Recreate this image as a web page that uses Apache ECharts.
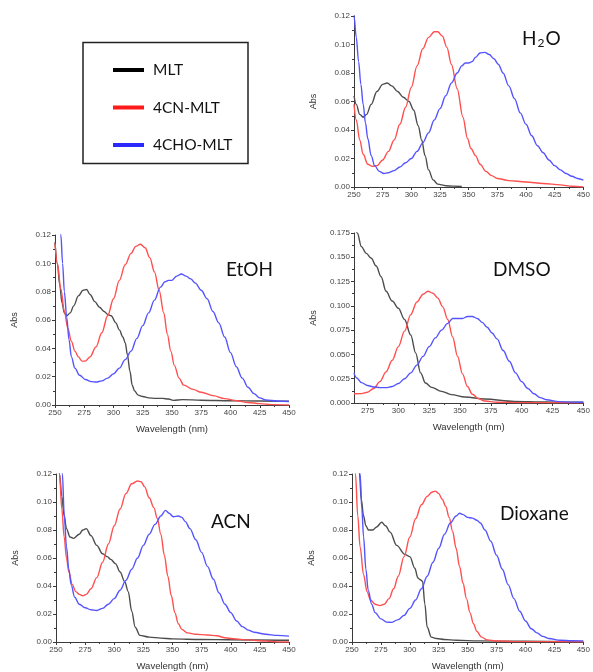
<!DOCTYPE html>
<html>
<head>
<meta charset="utf-8">
<script src="https://cdn.jsdelivr.net/npm/echarts@6/dist/echarts.min.js"></script>
<style>
html, body { margin: 0; padding: 0; background: #fff; }
#chart { width: 593px; height: 672px; }
</style>
</head>
<body>
<div id="chart"></div>
<script>
// UV-Vis absorption spectra of MLT, 4CN-MLT and 4CHO-MLT in five solvents.
// Each series is a list of [wavelength (nm), absorbance] pairs.

const seriesNames = ['MLT', '4CN-MLT', '4CHO-MLT'];
const solventNames = ['H2O', 'EtOH', 'DMSO', 'ACN', 'Dioxane'];
const xTicks = [250, 275, 300, 325, 350, 375, 400, 425, 450];
const dmsoXTicks = [275, 300, 325, 350, 375, 400, 425, 450];

// ---- H2O ----
const h2oMLT = [[250,0.064],[252,0.058],[255,0.051],[258,0.049],[261,0.051],[265,0.058],[270,0.067],[275,0.072],[279,0.073],[283,0.071],[288,0.067],[293,0.063],[298,0.060],[302,0.054],[306,0.043],[309,0.033],[312,0.022],[315,0.012],[319,0.005],[323,0.002],[330,0.0009],[337,0.0006],[344,0.0003]];
const h2oCN = [[250,0.058],[252,0.047],[255,0.033],[258,0.023],[262,0.016],[266,0.0145],[270,0.015],[275,0.019],[280,0.025],[285,0.033],[290,0.044],[295,0.056],[300,0.070],[305,0.085],[310,0.097],[315,0.105],[320,0.109],[323,0.109],[327,0.106],[331,0.098],[335,0.086],[340,0.069],[345,0.049],[349,0.034],[352,0.027],[356,0.022],[360,0.016],[365,0.011],[370,0.008],[375,0.006],[385,0.0045],[400,0.0035],[415,0.0025],[430,0.0015],[440,0.0005],[450,0]];
const h2oCHO = [[249,0.135],[250,0.12],[252,0.105],[254,0.088],[256,0.072],[258,0.058],[260,0.045],[262,0.034],[265,0.022],[268,0.015],[272,0.011],[276,0.0095],[280,0.0100],[285,0.0115],[290,0.014],[295,0.017],[300,0.020],[305,0.025],[310,0.031],[315,0.038],[320,0.047],[325,0.055],[330,0.064],[335,0.073],[340,0.080],[344,0.085],[347,0.087],[350,0.087],[353,0.088],[356,0.091],[360,0.094],[364,0.0945],[368,0.093],[372,0.090],[376,0.086],[380,0.080],[385,0.071],[390,0.062],[395,0.052],[400,0.044],[405,0.036],[410,0.029],[415,0.024],[420,0.019],[425,0.015],[430,0.012],[435,0.0095],[440,0.0075],[445,0.006],[450,0.0048]];

// ---- EtOH ----
const etohMLT = [[250,0.115],[252,0.100],[254,0.085],[256,0.072],[258,0.065],[260,0.063],[263,0.065],[266,0.070],[270,0.077],[274,0.081],[277,0.0815],[280,0.078],[284,0.073],[288,0.069],[292,0.066],[295,0.064],[298,0.063],[302,0.058],[305,0.053],[308,0.048],[310,0.044],[312,0.035],[314,0.024],[316,0.014],[318,0.010],[321,0.007],[325,0.006],[330,0.005],[336,0.0047],[342,0.0047],[347,0.0042],[351,0.0033],[359,0.0038],[375,0.0034],[400,0.003],[425,0.0028],[450,0.0026]];
const etohCN = [[250,0.114],[252,0.100],[255,0.082],[258,0.066],[261,0.054],[264,0.045],[267,0.038],[270,0.034],[273,0.031],[276,0.031],[280,0.034],[285,0.041],[290,0.051],[295,0.063],[300,0.075],[305,0.088],[310,0.099],[315,0.107],[319,0.112],[323,0.1135],[327,0.111],[331,0.104],[335,0.094],[339,0.081],[343,0.065],[346,0.050],[349,0.038],[352,0.028],[356,0.019],[360,0.014],[368,0.011],[375,0.009],[385,0.0066],[395,0.0045],[405,0.003],[415,0.0018],[425,0.001],[435,0.0003],[450,0]];
const etohCHO = [[254,0.128],[255,0.12],[256.5,0.10],[258,0.08],[260,0.062],[262,0.046],[264,0.034],[267,0.026],[271,0.021],[276,0.018],[281,0.0165],[285,0.0162],[290,0.017],[295,0.019],[300,0.022],[305,0.026],[310,0.032],[315,0.038],[320,0.047],[325,0.056],[330,0.065],[335,0.074],[340,0.083],[344,0.087],[347,0.088],[350,0.088],[354,0.091],[358,0.0925],[362,0.091],[366,0.089],[370,0.086],[375,0.081],[380,0.075],[385,0.066],[390,0.058],[395,0.048],[400,0.037],[405,0.027],[410,0.019],[415,0.0125],[420,0.008],[425,0.005],[430,0.0035],[440,0.0028],[450,0.0025]];

// ---- DMSO ----
const dmsoMLT = [[264,0.185],[266.7,0.175],[270,0.161],[274,0.154],[278,0.149],[282,0.141],[286,0.130],[290,0.115],[295,0.105],[300,0.0975],[305,0.086],[310,0.070],[314,0.0515],[318,0.031],[322,0.0206],[327,0.0161],[335,0.012],[343,0.0086],[354,0.0062],[370,0.0041],[394,0.0017],[420,0.001],[450,0.0007]];
const dmsoCN = [[264,0.0095],[270,0.0097],[275,0.011],[280,0.015],[285,0.022],[290,0.032],[295,0.044],[300,0.058],[305,0.074],[310,0.091],[315,0.104],[320,0.112],[324,0.115],[328,0.113],[332,0.108],[336,0.099],[340,0.086],[344,0.068],[348,0.048],[352,0.030],[356,0.017],[360,0.009],[365,0.0045],[370,0.002],[380,0.0008],[400,0.0004],[450,0.0002]];
const dmsoCHO = [[264,0.031],[266,0.026],[270,0.021],[275,0.018],[280,0.0165],[285,0.0158],[290,0.0158],[295,0.017],[300,0.020],[305,0.025],[310,0.031],[315,0.039],[320,0.048],[325,0.058],[330,0.067],[335,0.075],[340,0.082],[344,0.087],[348,0.087],[352,0.087],[356,0.089],[360,0.089],[364,0.087],[368,0.083],[372,0.078],[376,0.072],[380,0.066],[385,0.054],[390,0.043],[395,0.031],[400,0.022],[405,0.015],[410,0.0095],[415,0.0055],[420,0.0034],[430,0.0014],[440,0.0009],[450,0.0007]];

// ---- ACN ----
const acnMLT = [[252,0.13],[253,0.12],[255,0.104],[257,0.090],[259,0.081],[262,0.075],[265,0.074],[270,0.077],[273,0.080],[276,0.081],[280,0.076],[285,0.069],[290,0.063],[294,0.061],[297,0.059],[301,0.056],[305,0.050],[309,0.043],[312,0.036],[315,0.022],[318,0.0105],[322,0.0047],[330,0.0035],[340,0.0028],[350,0.0022],[375,0.0018],[400,0.0016],[450,0.0012]];
const acnCN = [[252,0.13],[253,0.12],[255,0.095],[257,0.075],[259,0.060],[261,0.050],[264,0.041],[267,0.036],[270,0.034],[273,0.033],[276,0.034],[280,0.038],[285,0.046],[290,0.057],[295,0.070],[300,0.083],[305,0.095],[310,0.106],[315,0.113],[320,0.115],[323,0.1145],[326,0.111],[330,0.103],[334,0.096],[337,0.088],[340,0.077],[343,0.062],[346,0.047],[349,0.033],[352,0.021],[355,0.013],[358,0.009],[363,0.0065],[370,0.0055],[380,0.005],[388,0.0045],[395,0.003],[402,0.0023],[415,0.0015],[430,0.0007],[440,0],[450,0]];
const acnCHO = [[254,0.14],[255.5,0.12],[257,0.092],[259,0.068],[261,0.052],[263,0.041],[266,0.032],[270,0.027],[275,0.0245],[280,0.023],[285,0.0225],[290,0.024],[295,0.027],[300,0.031],[305,0.037],[310,0.044],[315,0.052],[320,0.060],[325,0.069],[330,0.077],[335,0.084],[340,0.090],[344,0.094],[347,0.092],[350.7,0.0895],[355,0.090],[358,0.089],[361,0.086],[365,0.081],[370,0.073],[375,0.064],[380,0.054],[385,0.045],[390,0.035],[395,0.027],[400,0.021],[405,0.015],[410,0.011],[415,0.0085],[420,0.007],[430,0.0055],[440,0.0047],[450,0.0042]];

// ---- Dioxane ----
const dioxMLT = [[255,0.13],[256.5,0.12],[258,0.102],[260,0.090],[262,0.083],[264.3,0.080],[268,0.080],[271,0.082],[275.7,0.0855],[279,0.083],[283,0.0785],[288.6,0.069],[295.7,0.0626],[300,0.061],[304.3,0.0527],[307,0.0457],[309,0.0445],[311,0.0434],[313,0.027],[315,0.0105],[318.6,0.0035],[323,0.0025],[330,0.0018],[340,0.0012],[360,0.0008],[400,0.0005],[450,0.0003]];
const dioxCN = [[252,0.14],[253,0.12],[255,0.090],[257,0.068],[260,0.048],[263,0.036],[266,0.030],[270,0.027],[274,0.026],[278,0.027],[282,0.031],[286,0.038],[290,0.047],[295,0.061],[300,0.075],[305,0.088],[310,0.098],[315,0.104],[319,0.107],[322,0.1078],[325,0.106],[328,0.102],[331,0.097],[334,0.089],[337,0.079],[340,0.067],[343,0.054],[346,0.042],[349,0.031],[352,0.021],[355,0.013],[358,0.0075],[362,0.0035],[367,0.0015],[375,0.0007],[390,0.0003],[450,0.0002]];
const dioxCHO = [[255.5,0.14],[257,0.12],[258.5,0.095],[260,0.075],[262,0.052],[264,0.037],[267,0.027],[270,0.021],[275,0.0165],[280,0.0142],[284,0.014],[290,0.016],[295,0.019],[300,0.024],[305,0.030],[310,0.038],[315,0.047],[320,0.057],[325,0.067],[330,0.077],[335,0.085],[340,0.090],[343,0.092],[346,0.091],[350,0.089],[354,0.0885],[358,0.087],[361,0.085],[365,0.080],[370,0.072],[375,0.062],[380,0.052],[385,0.041],[390,0.031],[395,0.022],[400,0.015],[405,0.0095],[410,0.0065],[415,0.004],[420,0.0025],[430,0.0012],[440,0.0009],[450,0.0008]];

const panelData = [
  [h2oMLT, h2oCN, h2oCHO],
  [etohMLT, etohCN, etohCHO],
  [dmsoMLT, dmsoCN, dmsoCHO],
  [acnMLT, acnCN, acnCHO],
  [dioxMLT, dioxCN, dioxCHO]
];

// Panel layout and axis ranges
const panels = [
  { grid: { left: 354, top: 16,  width: 233, height: 171 }, xMin: 250, yMax: 0.12,  yStep: 0.02,  digits: 2, xName: false,
    title: { text: 'H{sub|2}O', left: 522, top: 28 } },
  { grid: { left: 55,  top: 235, width: 234, height: 170 }, xMin: 250, yMax: 0.12,  yStep: 0.02,  digits: 2, xName: true,
    title: { text: 'EtOH', left: 226, top: 260 } },
  { grid: { left: 354, top: 233, width: 233, height: 170 }, xMin: 264, yMax: 0.175, yStep: 0.025, digits: 3, xName: true,
    title: { text: 'DMSO', left: 493, top: 260 } },
  { grid: { left: 56,  top: 474, width: 233, height: 171 }, xMin: 250, yMax: 0.12,  yStep: 0.02,  digits: 2, xName: true,
    title: { text: 'ACN', left: 211, top: 512 } },
  { grid: { left: 352, top: 474, width: 233, height: 171 }, xMin: 250, yMax: 0.12,  yStep: 0.02,  digits: 2, xName: true,
    title: { text: 'Dioxane', left: 500, top: 504 } }
];

const lineColors = ['#4d4d4d', '#ff4f4f', '#5454ff'];
const legendColors = ['#000000', '#ff1a1a', '#2a2aff'];

const tickFont = { fontFamily: 'Liberation Sans, Arial, sans-serif', fontSize: 8, color: '#444' };
const axisLineStyle = { color: '#3a3a3a', width: 1 };

const grids = [], xAxes = [], yAxes = [], series = [], titles = [];

panels.forEach(function (p, i) {
  grids.push(Object.assign({ containLabel: false }, p.grid));

  const xBase = {
    type: 'value', gridIndex: i, min: p.xMin, max: 450,
    axisLine: { show: true, lineStyle: axisLineStyle },
    splitLine: { show: false },
    name: p.xName ? 'Wavelength (nm)' : '',
    nameLocation: 'middle', nameGap: 19,
    nameTextStyle: { fontFamily: 'Liberation Sans, Arial, sans-serif', fontSize: 9.5, color: '#333' }
  };
  if (p.xMin === 250) {
    xAxes.push(Object.assign(xBase, {
      interval: 25,
      axisTick: { show: true, length: 3, lineStyle: axisLineStyle },
      minorTick: { show: true, splitNumber: 2, length: 2, lineStyle: axisLineStyle },
      axisLabel: Object.assign({ margin: 4, showMinLabel: true, showMaxLabel: true }, tickFont)
    }));
  } else {
    xAxes.push(Object.assign(xBase, {
      axisTick: { show: true, length: 3, lineStyle: axisLineStyle, customValues: dmsoXTicks },
      axisLabel: Object.assign({ margin: 4, customValues: dmsoXTicks }, tickFont)
    }));
  }

  yAxes.push({
    type: 'value', gridIndex: i, min: 0, max: p.yMax, interval: p.yStep,
    axisLine: { show: true, lineStyle: axisLineStyle },
    axisTick: { show: true, length: 3, lineStyle: axisLineStyle },
    minorTick: { show: true, splitNumber: 2, length: 2, lineStyle: axisLineStyle },
    splitLine: { show: false },
    axisLabel: Object.assign({ margin: 4, formatter: function (v) { return v.toFixed(p.digits); } }, tickFont),
    name: 'Abs', nameLocation: 'middle', nameGap: 36, nameRotate: 90,
    nameTextStyle: { fontFamily: 'Liberation Sans, Arial, sans-serif', fontSize: 9, color: '#333' }
  });

  panelData[i].forEach(function (data, k) {
    series.push({
      name: seriesNames[k], type: 'line', xAxisIndex: i, yAxisIndex: i,
      data: data, showSymbol: false, smooth: 0.35, smoothMonotone: 'x',
      clip: true, silent: true,
      lineStyle: { color: lineColors[k], width: 1.4 },
      itemStyle: { color: lineColors[k] }
    });
  });

  titles.push({
    text: p.title.text, left: p.title.left, top: p.title.top, padding: 0,
    textStyle: {
      fontFamily: 'Lato, Open Sans, sans-serif', fontSize: 19, fontWeight: 'normal', color: '#111',
      rich: { sub: { fontFamily: 'Lato, Open Sans, sans-serif', fontSize: 12, color: '#111', padding: [9, 1, 0, 1] } }
    }
  });
});

// Extra minor ticks for the DMSO axis, which starts between tick marks
const dmsoMinor = [287.5, 312.5, 337.5, 362.5, 387.5, 412.5, 437.5];
xAxes.push({
  type: 'value', gridIndex: 2, min: 264, max: 450, position: 'bottom',
  axisLine: { show: false }, splitLine: { show: false },
  axisTick: { show: true, length: 2, lineStyle: axisLineStyle, customValues: dmsoMinor },
  axisLabel: { show: false }
});

const chart = echarts.init(document.getElementById('chart'), null, { renderer: 'canvas' });
chart.setOption({
  animation: false,
  backgroundColor: '#fff',
  title: titles,
  grid: grids,
  xAxis: xAxes,
  yAxis: yAxes,
  series: series,
  legend: {
    orient: 'vertical', left: 108, top: 56,
    itemWidth: 31, itemHeight: 4, itemGap: 19.5, icon: 'rect',
    selectedMode: false,
    data: seriesNames.map(function (n, k) {
      return { name: n, itemStyle: { color: legendColors[k] } };
    }),
    textStyle: { fontFamily: 'Lato, Open Sans, sans-serif', fontSize: 15.5, color: '#111', lineHeight: 18, padding: [0, 0, 0, 4] }
  },
  graphic: [{
    type: 'rect', silent: true,
    shape: { x: 83, y: 42.5, width: 165, height: 121 },
    style: { fill: 'none', stroke: '#222', lineWidth: 1.5 }
  }]
});
</script>
</body>
</html>
